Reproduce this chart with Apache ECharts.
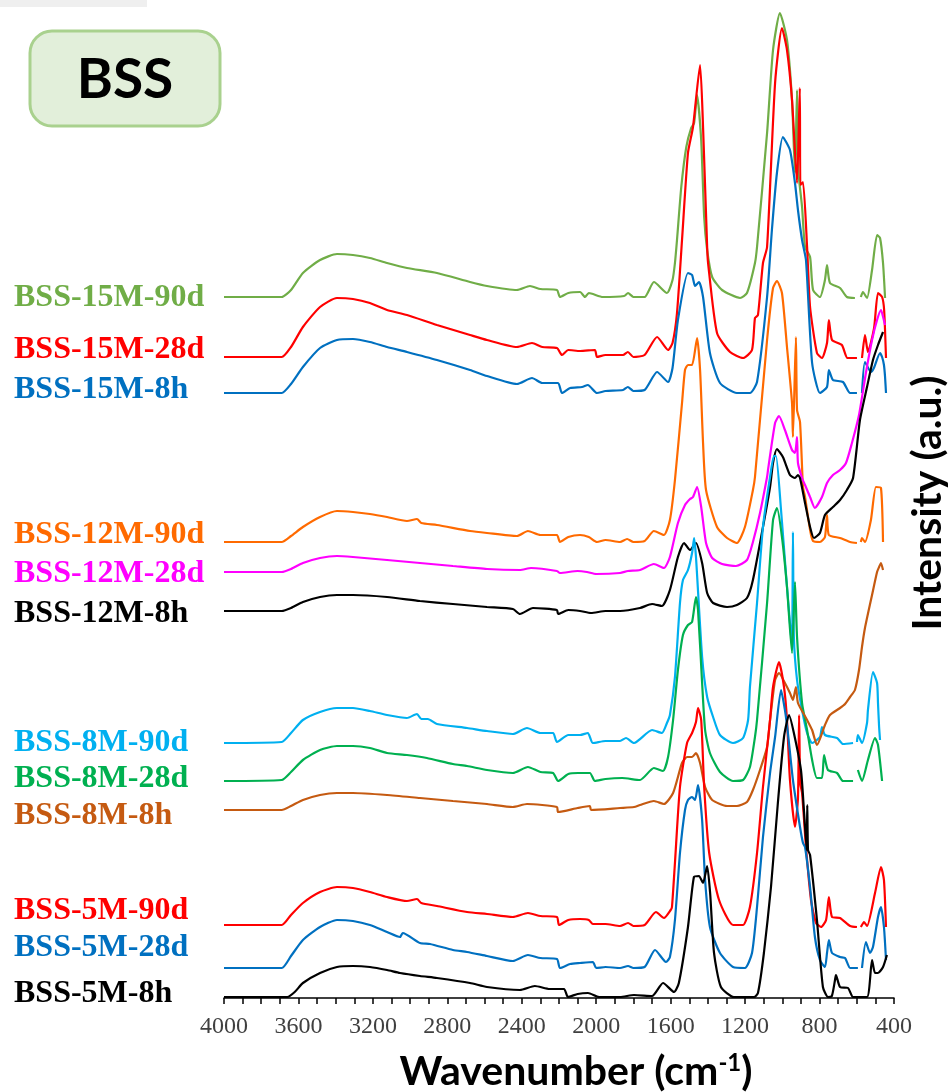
<!DOCTYPE html>
<html>
<head>
<meta charset="utf-8">
<script src="https://cdn.jsdelivr.net/npm/echarts@6/dist/echarts.min.js"></script>
<style>
html,body{margin:0;padding:0;background:#fff;overflow:hidden;}
#chart{position:absolute;left:0;top:0;width:948px;height:1092px;}
</style>
</head>
<body>
<div id="chart"></div>
<script>
// ---- data: [wavenumber (cm-1), stacked intensity (a.u.)] ----
const seriesNames = ['BSS-15M-90d','BSS-15M-28d','BSS-15M-8h','BSS-12M-90d','BSS-12M-28d','BSS-12M-8h',
                     'BSS-8M-90d','BSS-8M-28d','BSS-8M-8h','BSS-5M-90d','BSS-5M-28d','BSS-5M-8h'];
const seriesColors = ['#70ad47','#ff0000','#0070c0','#ff6a00','#ff00ff','#000000',
                      '#00b0f0','#00b050','#c55a11','#ff0000','#0070c0','#000000'];
const xTickLabels = [4000,3600,3200,2800,2400,2000,1600,1200,800,400];

const s15M90d = [[4000,701],[3850,701],[3690,701],[3640,708],[3576,725],[3484,738],[3393,744],[3307,743],[3216,740],[3124,735],[3017,730],[2856,725],[2678,716],[2587,712],[2426,708],[2356,712],[2300,709],[2211,708],[2195,701],[2150,705],[2087,706],[2060,701],[2040,705],[1964,701],[1850,702],[1829,705],[1800,701],[1740,701],[1690,716],[1620,705],[1590,718],[1577,735],[1566,758],[1543,811],[1516,851],[1490,870],[1474,875],[1458,903],[1436,858],[1420,781],[1404,748],[1377,721],[1324,708],[1227,700],[1190,705],[1147,735],[1136,751],[1082,865],[1050,948],[1013,985],[975,958],[948,898],[932,825],[921,908],[916,831],[894,791],[878,751],[851,741],[835,708],[798,701],[771,718],[760,733],[744,715],[690,710],[653,701],[610,700],[595,'-'],[578,701],[567,706],[545,700],[518,728],[491,763],[475,760],[459,735],[448,700]];
const s15M28d = [[4000,641],[3690,641],[3640,651],[3576,671],[3484,691],[3393,700],[3307,699],[3216,695],[3124,688],[3017,683],[2856,673],[2678,663],[2587,658],[2426,651],[2345,655],[2290,651],[2211,650],[2184,643],[2150,648],[2087,647],[2007,648],[1996,641],[1950,643],[1856,643],[1830,646],[1800,641],[1740,643],[1673,661],[1614,648],[1590,655],[1566,685],[1539,758],[1507,845],[1480,871],[1442,933],[1426,871],[1404,751],[1399,735],[1351,665],[1281,646],[1211,640],[1163,648],[1147,680],[1131,683],[1104,735],[1082,751],[1039,915],[1002,970],[975,948],[948,898],[921,815],[906,910],[903,813],[889,816],[867,751],[851,691],[814,645],[787,640],[760,655],[750,678],[733,658],[680,653],[650,640],[599,640],[585,'-'],[572,640],[556,663],[540,646],[507,670],[486,705],[464,701],[453,688],[443,640]];
const s15M8h = [[4000,605],[3690,605],[3640,614],[3576,631],[3484,650],[3393,658],[3307,659],[3216,656],[3124,651],[3017,646],[2856,638],[2678,628],[2587,622],[2426,614],[2345,620],[2290,615],[2205,615],[2184,605],[2140,610],[2076,611],[2045,613],[1996,605],[1950,607],[1856,608],[1830,611],[1800,607],[1740,608],[1673,626],[1614,616],[1590,630],[1561,678],[1507,725],[1485,723],[1469,712],[1448,716],[1426,701],[1389,645],[1335,615],[1244,605],[1174,605],[1136,616],[1082,701],[1056,768],[1029,825],[997,861],[959,848],[932,815],[916,788],[894,758],[873,738],[840,635],[798,605],[760,611],[750,628],[728,618],[674,616],[636,605],[599,605],[585,'-'],[572,605],[556,636],[524,626],[508,630],[475,645],[464,641],[454,633],[448,621],[443,605]];
const s12M90d = [[4000,456],[3690,456],[3640,462],[3576,471],[3484,481],[3393,487],[3307,486],[3216,484],[3124,481],[3017,477],[2963,479],[2940,475],[2856,473],[2678,467],[2587,465],[2426,462],[2367,467],[2300,463],[2211,463],[2195,456],[2150,461],[2087,463],[2040,461],[1996,456],[1950,458],[1872,456],[1834,459],[1800,456],[1740,457],[1690,467],[1636,463],[1604,478],[1577,518],[1539,595],[1523,628],[1507,633],[1485,633],[1458,660],[1442,628],[1426,555],[1410,508],[1351,471],[1297,460],[1244,455],[1201,471],[1158,508],[1147,521],[1082,658],[1050,710],[1029,717],[1002,705],[975,651],[948,595],[943,561],[927,661],[921,588],[905,576],[889,511],[878,501],[851,468],[835,457],[798,456],[771,461],[760,483],[750,463],[690,460],[636,456],[599,455],[590,'-'],[578,456],[572,460],[556,456],[524,478],[497,511],[470,510],[459,456]];
const s12M28d = [[4000,426],[3690,426],[3640,429],[3576,435],[3484,440],[3393,442],[3307,441],[3124,438],[2947,435],[2770,432],[2587,429],[2410,428],[2350,430],[2211,427],[2195,425],[2100,427],[2050,426],[2000,424],[1872,425],[1830,427],[1765,428],[1690,434],[1636,430],[1604,441],[1561,475],[1523,493],[1496,499],[1480,501],[1458,511],[1436,491],[1410,455],[1377,440],[1324,434],[1249,432],[1190,438],[1158,456],[1120,485],[1082,521],[1077,528],[1039,575],[1018,582],[986,568],[948,548],[932,545],[921,561],[916,535],[894,520],[878,513],[851,501],[825,490],[787,501],[760,515],[728,523],[690,528],[658,535],[626,555],[588,583],[551,625],[518,658],[491,678],[470,688],[464,685],[448,673]];
const s12M8h = [[4000,387],[3690,387],[3640,390],[3576,396],[3484,401],[3393,403],[3307,403],[3124,401],[2947,397],[2770,394],[2587,391],[2448,389],[2410,384],[2340,390],[2211,388],[2205,384],[2150,388],[2087,387],[2028,385],[1950,387],[1872,387],[1765,390],[1700,394],[1647,392],[1604,408],[1561,441],[1528,455],[1496,448],[1464,455],[1431,435],[1404,405],[1372,395],[1297,391],[1244,393],[1190,400],[1158,418],[1104,471],[1066,511],[1050,535],[1029,549],[997,541],[959,523],[932,520],[916,523],[905,520],[878,495],[851,471],[830,460],[798,465],[771,483],[728,491],[690,498],[653,508],[620,520],[583,578],[545,611],[513,638],[486,653],[459,666]];
const s8M90d = [[4000,255],[3690,256],[3640,265],[3576,278],[3484,286],[3393,290],[3307,290],[3216,287],[3124,283],[3017,280],[2963,284],[2940,279],[2905,279],[2856,274],[2694,270],[2587,267],[2448,264],[2372,270],[2300,265],[2232,265],[2211,256],[2150,263],[2087,263],[2045,265],[2018,255],[1950,257],[1872,257],[1840,260],[1797,255],[1700,268],[1647,265],[1620,275],[1604,283],[1577,321],[1550,395],[1534,418],[1507,428],[1485,445],[1474,460],[1464,441],[1431,341],[1404,301],[1372,281],[1335,263],[1265,255],[1211,260],[1184,278],[1174,311],[1136,395],[1104,471],[1066,521],[1045,542],[1034,542],[1007,488],[980,423],[959,375],[948,351],[943,466],[938,361],[921,318],[894,288],[867,265],[840,255],[798,261],[787,271],[771,263],[706,260],[674,254],[620,255],[610,'-'],[599,256],[594,263],[572,255],[545,275],[540,288],[513,326],[491,315],[486,295],[480,271],[475,258]];
const s8M28d = [[4000,217],[3690,218],[3640,226],[3576,238],[3484,248],[3393,252],[3307,252],[3216,250],[3124,245],[3017,243],[2910,240],[2770,234],[2694,232],[2587,228],[2448,225],[2367,231],[2300,226],[2232,225],[2205,217],[2150,224],[2098,225],[2034,225],[2007,217],[1950,219],[1861,220],[1765,218],[1690,230],[1641,227],[1614,241],[1587,278],[1561,328],[1534,363],[1507,373],[1485,376],[1464,401],[1453,388],[1431,315],[1415,268],[1389,245],[1335,226],[1265,217],[1211,218],[1174,231],[1147,261],[1136,278],[1082,395],[1050,478],[1029,490],[1002,461],[975,411],[948,345],[932,416],[921,361],[894,295],[867,268],[840,238],[814,220],[787,220],[776,243],[755,228],[706,225],[674,217],[620,217],[605,'-'],[594,228],[572,217],[540,238],[502,260],[486,253],[464,217]];
const s8M8h = [[4000,188],[3690,188],[3640,192],[3576,198],[3484,203],[3393,205],[3307,205],[3124,203],[2947,200],[2770,197],[2587,194],[2448,191],[2372,194],[2211,191],[2205,186],[2100,190],[2034,192],[2028,188],[1872,190],[1797,191],[1765,193],[1690,197],[1636,194],[1587,205],[1539,235],[1512,241],[1485,241],[1464,245],[1442,235],[1415,211],[1377,198],[1297,192],[1244,192],[1190,196],[1158,208],[1120,228],[1082,251],[1066,278],[1039,318],[1018,325],[986,315],[959,305],[943,298],[927,311],[916,295],[867,278],[840,268],[814,253],[771,273],[744,283],[690,290],[663,294],[636,301],[610,308],[588,328],[572,351],[556,370],[518,403],[491,426],[480,431],[470,435],[459,428]];
const s5M90d = [[4000,73],[3690,73],[3640,83],[3576,95],[3484,106],[3393,111],[3307,110],[3216,106],[3124,101],[3017,97],[2963,99],[2940,95],[2856,92],[2694,86],[2587,84],[2448,81],[2367,85],[2300,82],[2211,81],[2200,73],[2150,78],[2087,79],[2040,78],[2018,74],[1950,74],[1872,72],[1829,75],[1800,72],[1740,73],[1679,86],[1636,80],[1600,88],[1593,91],[1577,135],[1550,211],[1512,255],[1485,265],[1464,276],[1453,290],[1436,278],[1420,211],[1393,145],[1340,98],[1265,73],[1211,73],[1174,91],[1136,145],[1104,211],[1066,278],[1050,311],[1018,336],[991,311],[975,278],[959,218],[932,171],[916,200],[910,283],[904,215],[894,205],[873,151],[846,98],[819,75],[792,71],[765,78],[750,101],[733,81],[690,80],[636,72],[599,71],[590,'-'],[578,71],[561,76],[545,72],[502,105],[470,131],[454,118],[443,71]];
const s5M28d = [[4000,30],[3690,30],[3640,42],[3576,58],[3484,71],[3393,78],[3307,77],[3216,73],[3124,66],[3054,61],[3040,65],[2947,55],[2893,54],[2770,48],[2694,46],[2587,42],[2448,37],[2367,43],[2300,40],[2211,39],[2195,30],[2140,34],[2087,35],[2018,36],[2000,30],[1950,31],[1872,30],[1829,32],[1800,30],[1740,31],[1684,48],[1625,36],[1604,41],[1577,78],[1550,145],[1523,188],[1507,198],[1485,201],[1469,198],[1453,213],[1431,178],[1415,118],[1389,71],[1335,45],[1265,31],[1201,30],[1163,45],[1136,91],[1104,161],[1066,225],[1039,261],[1007,308],[986,288],[970,265],[943,218],[905,171],[889,155],[878,151],[851,111],[825,61],[798,38],[771,31],[760,45],[750,58],[733,45],[690,41],[663,40],[636,30],[594,30],[585,'-'],[572,30],[551,56],[529,45],[513,51],[486,81],[470,91],[454,71],[443,38]];
const s5M8h = [[4000,1],[3690,1],[3660,1],[3620,6],[3576,15],[3484,25],[3393,31],[3307,32],[3216,31],[3124,28],[3054,25],[2947,22],[2856,20],[2678,15],[2587,11],[2410,8],[2330,12],[2250,9],[2173,9],[2152,1],[2100,4],[2044,5],[1985,1],[1872,1],[1797,3],[1700,2],[1641,15],[1582,6],[1556,15],[1507,71],[1475,121],[1448,122],[1426,115],[1404,132],[1388,105],[1367,45],[1330,11],[1260,1],[1152,1],[1131,5],[1099,45],[1061,111],[1024,195],[991,261],[964,283],[938,265],[900,228],[884,188],[869,148],[866,193],[862,148],[851,143],[814,78],[782,11],[755,1],[734,2],[717,18],[712,23],[690,11],[647,10],[620,1],[545,1],[518,38],[502,25],[486,25],[459,31],[438,43]];

const seriesData = [s15M90d,s15M28d,s15M8h,s12M90d,s12M28d,s12M8h,s8M90d,s8M28d,s8M8h,s5M90d,s5M28d,s5M8h];
// label vertical centres (annotation layout)
const labelY = [298,350,390,535,574,614,743,779,816,911,948,994];

const chart = echarts.init(document.getElementById('chart'), null, {renderer:'canvas'});

const graphics = [
  {type:'rect', shape:{x:0,y:0,width:147,height:7}, style:{fill:'#efefef'}, silent:true},
  {type:'rect', shape:{x:30,y:31,width:190,height:95,r:22}, style:{fill:'#e2efda', stroke:'#a9d18e', lineWidth:3}, silent:true},
  {type:'text', x:125, y:80, style:{text:'BSS', fill:'#000', font:'bold 55px Lato', textAlign:'center', textVerticalAlign:'middle', align:'center', verticalAlign:'middle'}, silent:true}
];
seriesNames.forEach((n,i)=>{
  graphics.push({type:'text', x:14, y:labelY[i], style:{text:n, fill:seriesColors[i], font:'bold 32px "Liberation Serif"', textAlign:'left', textVerticalAlign:'middle', align:'left', verticalAlign:'middle'}, silent:true});
});

const option = {
  animation:false,
  backgroundColor:'#fff',
  grid:{left:224, right:54, top:0, bottom:94, containLabel:false, outerBoundsMode:'none'},
  xAxis:{
    type:'value', min:400, max:4000, interval:100, inverse:true,
    axisLine:{show:true, onZero:false, lineStyle:{color:'#000', width:1.5}},
    axisTick:{show:true, length:6, lineStyle:{color:'#000', width:1.5}},
    splitLine:{show:false},
    axisLabel:{
      formatter: v => (xTickLabels.indexOf(v) >= 0 ? String(v) : ''),
      fontFamily:'Liberation Serif', fontSize:24, color:'#404040', margin:17,
      showMinLabel:true, showMaxLabel:true, hideOverlap:false
    },
    name:'{a|Wavenumber (cm}{s|-1}{a|)}',
    nameLocation:'middle', nameGap:50,
    nameTextStyle:{
      padding:[0,0,0,34],
      rich:{
        a:{fontFamily:'Lato', fontWeight:'bold', fontSize:41, color:'#000', lineHeight:48},
        s:{fontFamily:'Lato', fontWeight:'bold', fontSize:24, color:'#000', lineHeight:48, padding:[0,0,18,0]}
      }
    }
  },
  yAxis:{
    type:'value', min:0, max:998, position:'right',
    axisLine:{show:false}, axisTick:{show:false}, axisLabel:{show:false}, splitLine:{show:false},
    name:'Intensity (a.u.)', nameLocation:'middle', nameRotate:90, nameGap:13,
    nameTextStyle:{fontFamily:'Lato', fontWeight:'bold', fontSize:41, color:'#000', padding:[0,8,0,0]}
  },
  series: seriesNames.map((n,i)=>({
    name:n, type:'line', data:seriesData[i], showSymbol:false, symbol:'none',
    smooth:0.2, connectNulls:false,
    lineStyle:{color:seriesColors[i], width:2.2}, itemStyle:{color:seriesColors[i]},
    z: 2
  })),
  graphic: graphics
};
chart.setOption(option);
</script>
</body>
</html>
